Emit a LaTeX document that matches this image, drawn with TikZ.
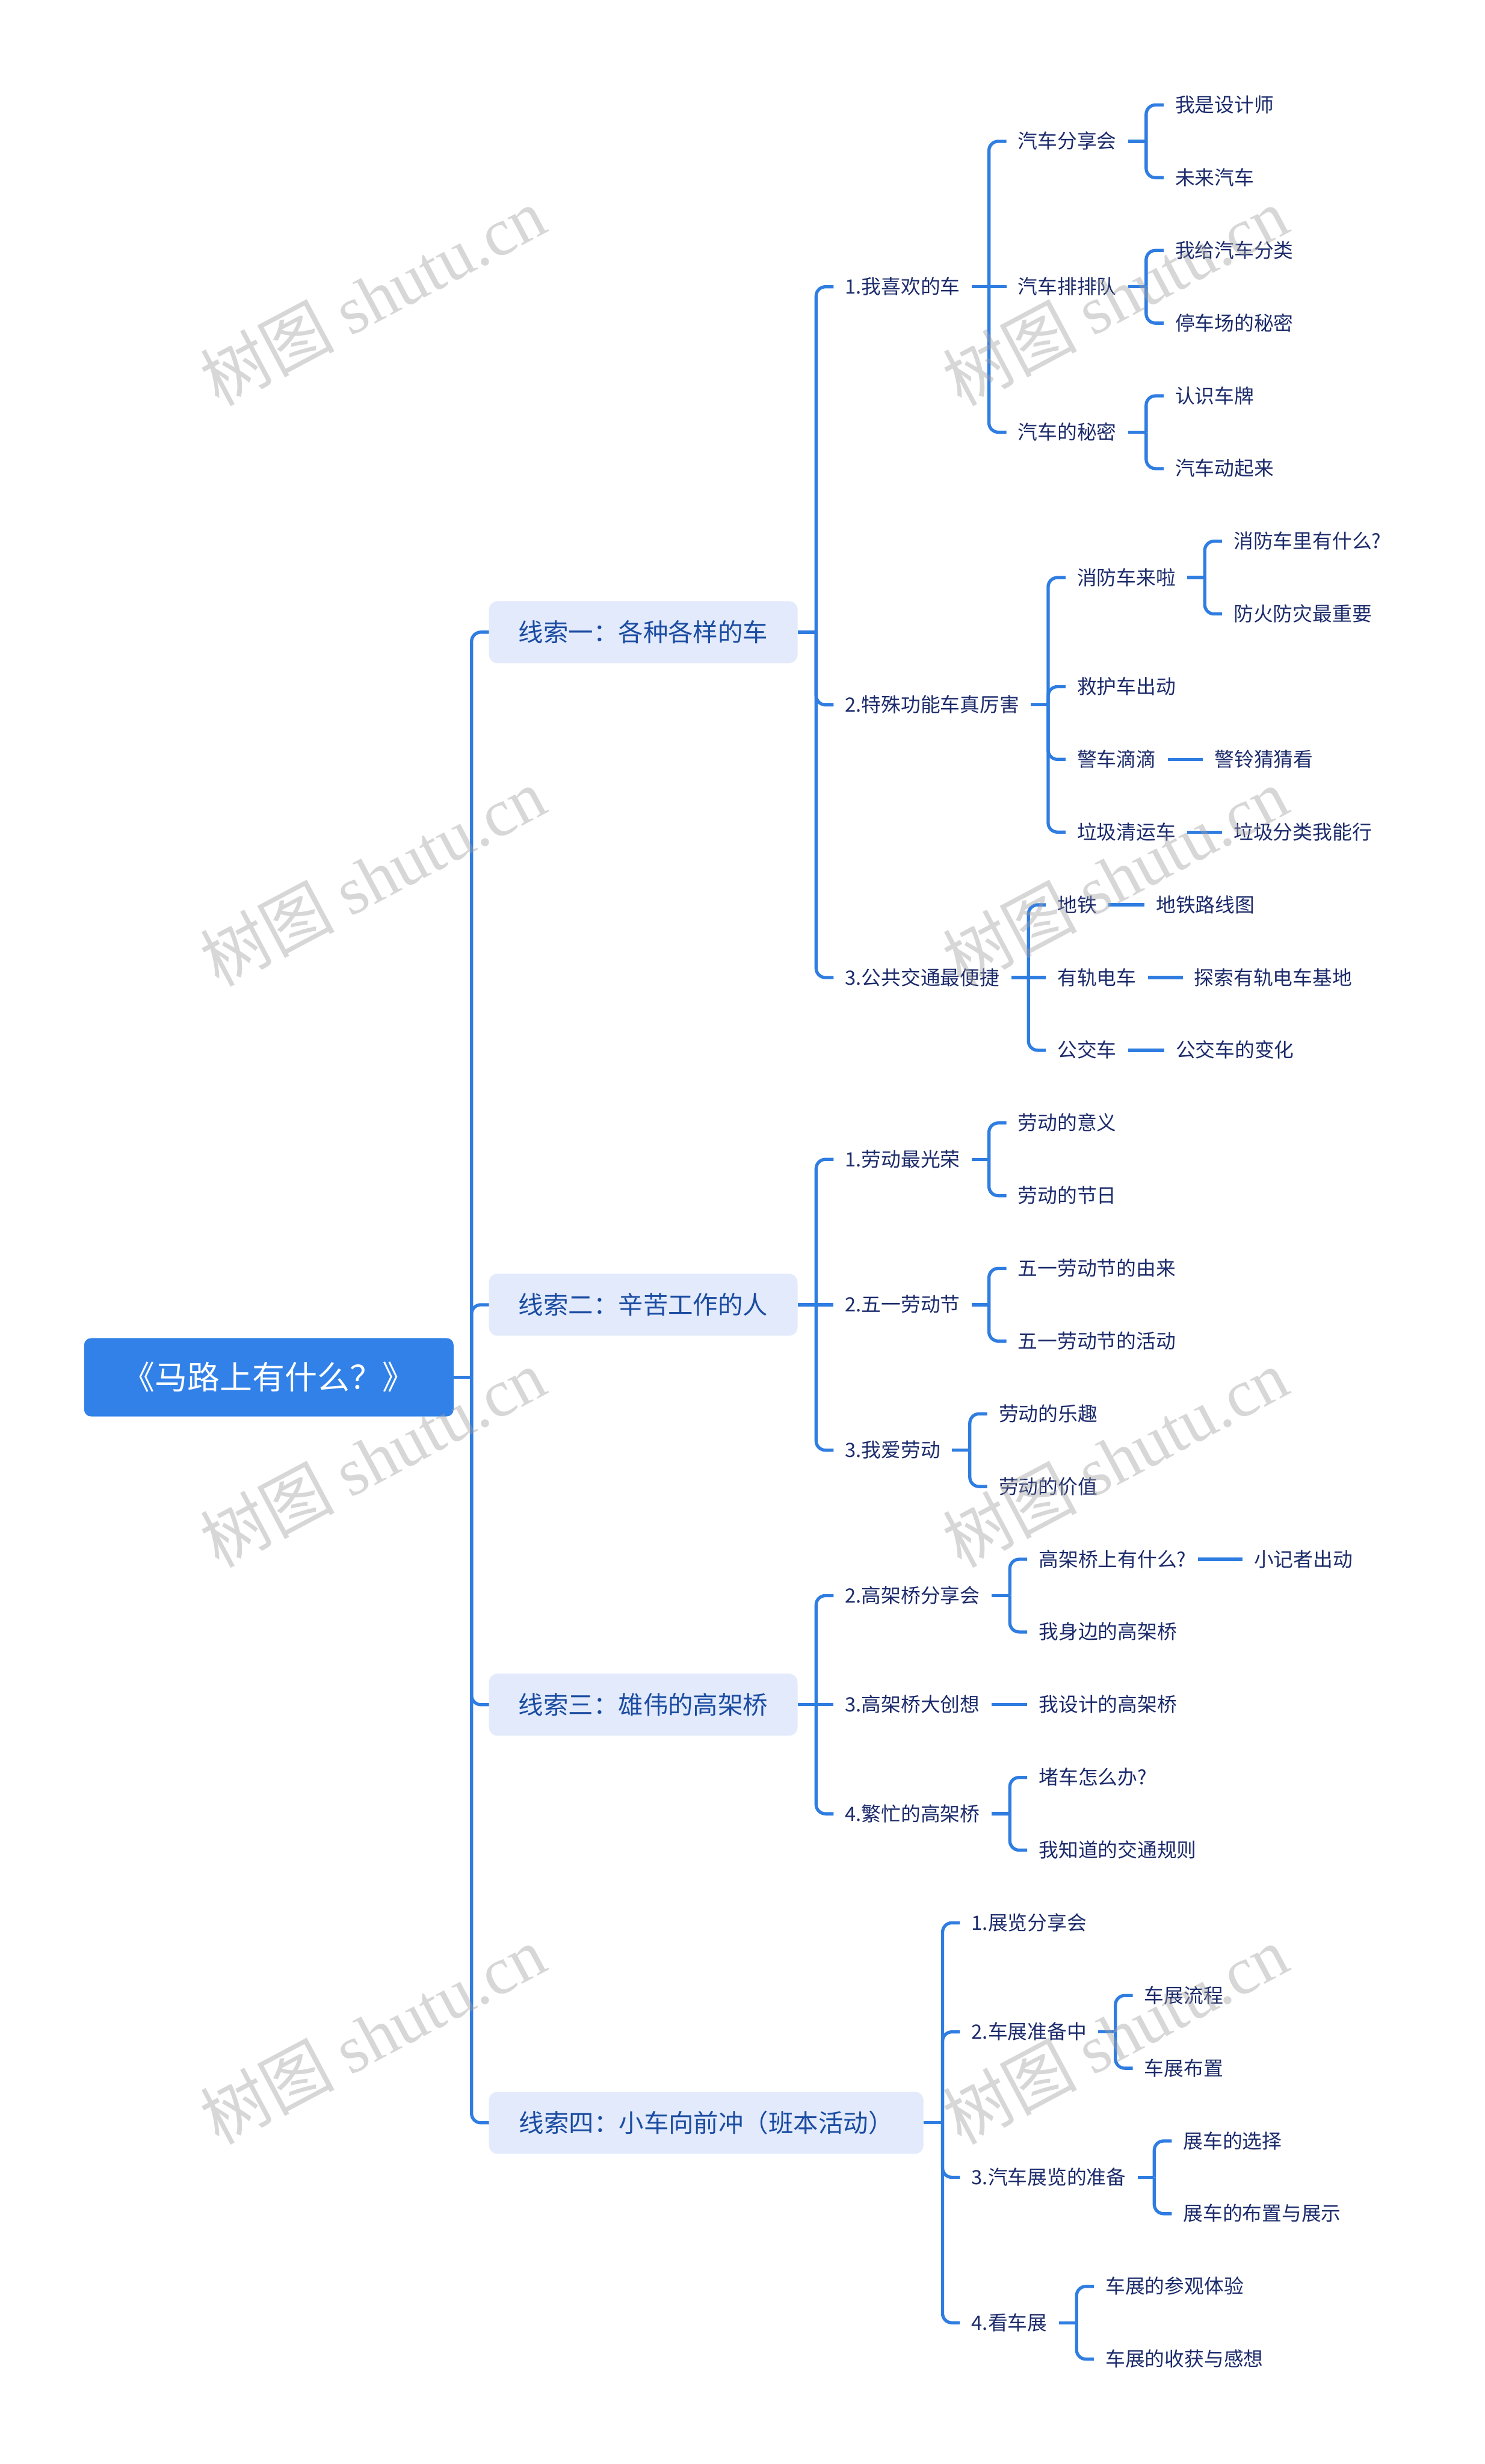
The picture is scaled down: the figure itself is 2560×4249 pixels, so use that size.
\documentclass[tikz,border=0pt]{standalone}
\usepackage{fontspec}
\setmainfont{Noto Sans CJK SC}
\newfontfamily\wmlat{Liberation Serif}
\usetikzlibrary{calc}
\definecolor{linkc}{HTML}{2F7DE1}
\definecolor{rootc}{HTML}{3181E9}
\definecolor{clfill}{HTML}{E2EAFB}
\definecolor{cltext}{HTML}{1B4CA1}
\definecolor{itemtext}{HTML}{1C2B6B}
\definecolor{wmc}{HTML}{A0A0A0}
\newcommand\mmstub[2]{\draw[link] (#1.east) -- ($(#1.east -| #2.west)+(-30,0)$);}
\newcommand\mmkid[2]{\draw[curvelink] ($(#1.east -| #2.west)+(-30,0)$) |- (#2.west);}
\newcommand\mmline[2]{\draw[link] (#1.east) -- (#2.west);}
\begin{document}
\begin{tikzpicture}[x=1pt,y=-1pt,
  every node/.style={outer sep=0pt},
  rootbox/.style={fill=rootc, rounded corners=12pt, text=white, font=\fontsize{56}{62}\selectfont, minimum width=637pt, minimum height=135pt, text height=47pt, text depth=6pt, inner sep=0pt},
  cluebox/.style={fill=clfill, rounded corners=15pt, text=cltext, font=\fontsize{43}{50}\selectfont, minimum height=107pt, text height=37pt, text depth=5pt, inner sep=0pt, anchor=west},
  item/.style={text=itemtext, font=\fontsize{34}{40}\selectfont, inner xsep=20pt, inner ysep=0pt, text height=29pt, text depth=4pt, anchor=west},
  link/.style={draw=linkc, line width=5.5pt},
  curvelink/.style={link, rounded corners=16pt},
  wm/.style={text=wmc, opacity=0.42, rotate=28, font=\fontsize{116}{124}\selectfont}
]
\fill[white] (0,0) rectangle (2560,4249);
\useasboundingbox (0,0) rectangle (2560,4249);

% root and clues
\node[rootbox] (root) at (463.5,2375) {《马路上有什么？》};
\node[cluebox, minimum width=532pt] (c1) at (843,1090.1) {线索一：各种各样的车};
\node[cluebox, minimum width=532pt] (c2) at (843,2249.9) {线索二：辛苦工作的人};
\node[cluebox, minimum width=532pt] (c3) at (843,2939.6) {线索三：雄伟的高架桥};
\node[cluebox, minimum width=749pt] (c4) at (843,3660.6) {线索四：小车向前冲（班本活动）};

% clue 1
\node[item] (a1) at (1437,494.5) {1.我喜欢的车};
\node[item] (a11) at (1735,243.7) {汽车分享会};
\node[item] (a111) at (2006,181.0) {我是设计师};
\node[item] (a112) at (2006,306.4) {未来汽车};
\node[item] (a12) at (1735,494.5) {汽车排排队};
\node[item] (a121) at (2006,431.8) {我给汽车分类};
\node[item] (a122) at (2006,557.2) {停车场的秘密};
\node[item] (a13) at (1735,745.3) {汽车的秘密};
\node[item] (a131) at (2006,682.6) {认识车牌};
\node[item] (a132) at (2006,808.0) {汽车动起来};
\node[item] (a2) at (1437,1215.5) {2.特殊功能车真厉害};
\node[item] (a21) at (1837,996.0) {消防车来啦};
\node[item] (a211) at (2107,933.3) {消防车里有什么?};
\node[item] (a212) at (2107,1058.7) {防火防灾最重要};
\node[item] (a22) at (1837,1184.1) {救护车出动};
\node[item] (a23) at (1837,1309.5) {警车滴滴};
\node[item] (a231) at (2074,1309.5) {警铃猜猜看};
\node[item] (a24) at (1837,1434.9) {垃圾清运车};
\node[item] (a241) at (2107,1434.9) {垃圾分类我能行};
\node[item] (a3) at (1437,1685.7) {3.公共交通最便捷};
\node[item] (a31) at (1803,1560.3) {地铁};
\node[item] (a311) at (1973,1560.3) {地铁路线图};
\node[item] (a32) at (1803,1685.7) {有轨电车};
\node[item] (a321) at (2039,1685.7) {探索有轨电车基地};
\node[item] (a33) at (1803,1811.1) {公交车};
\node[item] (a331) at (2007,1811.1) {公交车的变化};

% clue 2
\node[item] (b1) at (1437,1999.2) {1.劳动最光荣};
\node[item] (b11) at (1735,1936.5) {劳动的意义};
\node[item] (b12) at (1735,2061.9) {劳动的节日};
\node[item] (b2) at (1437,2249.9) {2.五一劳动节};
\node[item] (b21) at (1735,2187.2) {五一劳动节的由来};
\node[item] (b22) at (1735,2312.6) {五一劳动节的活动};
\node[item] (b3) at (1437,2500.7) {3.我爱劳动};
\node[item] (b31) at (1702,2438.0) {劳动的乐趣};
\node[item] (b32) at (1702,2563.4) {劳动的价值};

% clue 3
\node[item] (e1) at (1437,2751.5) {2.高架桥分享会};
\node[item] (e11) at (1771,2688.8) {高架桥上有什么?};
\node[item] (e111) at (2142,2688.8) {小记者出动};
\node[item] (e12) at (1771,2814.2) {我身边的高架桥};
\node[item] (e2) at (1437,2939.6) {3.高架桥大创想};
\node[item] (e21) at (1771,2939.6) {我设计的高架桥};
\node[item] (e3) at (1437,3127.7) {4.繁忙的高架桥};
\node[item] (e31) at (1771,3065.0) {堵车怎么办?};
\node[item] (e32) at (1771,3190.4) {我知道的交通规则};

% clue 4
\node[item] (d1) at (1655,3315.8) {1.展览分享会};
\node[item] (d2) at (1655,3503.8) {2.车展准备中};
\node[item] (d21) at (1953,3441.1) {车展流程};
\node[item] (d22) at (1953,3566.5) {车展布置};
\node[item] (d3) at (1655,3754.6) {3.汽车展览的准备};
\node[item] (d31) at (2020,3691.9) {展车的选择};
\node[item] (d32) at (2020,3817.3) {展车的布置与展示};
\node[item] (d4) at (1655,4005.4) {4.看车展};
\node[item] (d41) at (1886,3942.7) {车展的参观体验};
\node[item] (d42) at (1886,4068.1) {车展的收获与感想};

% connectors: root
\mmstub{root}{c1}
\mmkid{root}{c1}\mmkid{root}{c2}\mmkid{root}{c3}\mmkid{root}{c4}

% clue 1
\mmstub{c1}{a1}
\mmkid{c1}{a1}\mmkid{c1}{a2}\mmkid{c1}{a3}
\mmline{a1}{a12}\mmkid{a1}{a11}\mmkid{a1}{a13}
\mmstub{a11}{a111}\mmkid{a11}{a111}\mmkid{a11}{a112}
\mmstub{a12}{a121}\mmkid{a12}{a121}\mmkid{a12}{a122}
\mmstub{a13}{a131}\mmkid{a13}{a131}\mmkid{a13}{a132}
\mmstub{a2}{a21}\mmkid{a2}{a21}\mmkid{a2}{a22}\mmkid{a2}{a23}\mmkid{a2}{a24}
\mmstub{a21}{a211}\mmkid{a21}{a211}\mmkid{a21}{a212}
\mmline{a23}{a231}
\mmline{a24}{a241}
\mmline{a3}{a32}\mmkid{a3}{a31}\mmkid{a3}{a33}
\mmline{a31}{a311}
\mmline{a32}{a321}
\mmline{a33}{a331}

% clue 2
\mmline{c2}{b2}\mmkid{c2}{b1}\mmkid{c2}{b3}
\mmstub{b1}{b11}\mmkid{b1}{b11}\mmkid{b1}{b12}
\mmstub{b2}{b21}\mmkid{b2}{b21}\mmkid{b2}{b22}
\mmstub{b3}{b31}\mmkid{b3}{b31}\mmkid{b3}{b32}

% clue 3
\mmline{c3}{e2}\mmkid{c3}{e1}\mmkid{c3}{e3}
\mmstub{e1}{e11}\mmkid{e1}{e11}\mmkid{e1}{e12}
\mmline{e11}{e111}
\mmline{e2}{e21}
\mmstub{e3}{e31}\mmkid{e3}{e31}\mmkid{e3}{e32}

% clue 4
\mmstub{c4}{d1}
\mmkid{c4}{d1}\mmkid{c4}{d2}\mmkid{c4}{d3}\mmkid{c4}{d4}
\mmstub{d2}{d21}\mmkid{d2}{d21}\mmkid{d2}{d22}
\mmstub{d3}{d31}\mmkid{d3}{d31}\mmkid{d3}{d32}
\mmstub{d4}{d41}\mmkid{d4}{d41}\mmkid{d4}{d42}

% watermarks
\foreach \wy [count=\k] in {511,1512,2514,3509}{
  \node[wm] (wml\k) at (642,\wy) {树图 {\wmlat shutu.cn}};
  \node[wm] (wmr\k) at (1922,\wy) {树图 {\wmlat shutu.cn}};
}
\end{tikzpicture}
\end{document}
